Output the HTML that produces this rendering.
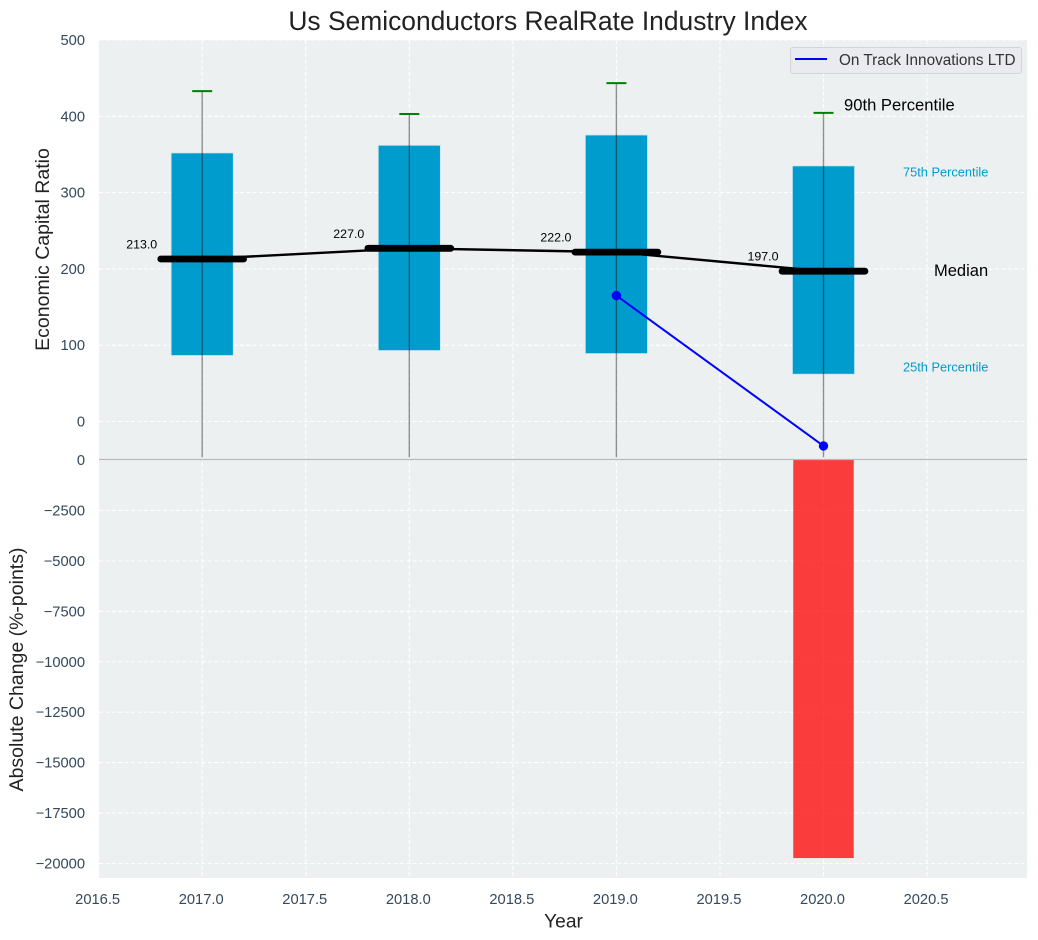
<!DOCTYPE html>
<html>
<head>
<meta charset="utf-8">
<title>Us Semiconductors RealRate Industry Index</title>
<style>
html,body{margin:0;padding:0;background:#fff;}
svg{display:block;font-family:"Liberation Sans",Arial,sans-serif;}
</style>
</head>
<body>
<svg id="chart" xmlns="http://www.w3.org/2000/svg" width="1038" height="940" viewBox="0 0 1038 940"></svg>
<script>
const years = [2017, 2018, 2019, 2020];
const p25 = [86.5, 93, 89, 62];
const p75 = [352, 362, 375.5, 335];
const p90 = [433, 403, 443.5, 404.5];
const p10 = [-47, -47, -47, -47];
const medians = [213, 227, 222, 197];
const companyYears = [2019, 2020];
const companyValues = [165, -32];
const changeYears = [2020];
const changeValues = [-19730];
const xTicks = [2016.5, 2017, 2017.5, 2018, 2018.5, 2019, 2019.5, 2020, 2020.5];
const topTicks = [0, 100, 200, 300, 400, 500];
const bottomTicks = [0, -2500, -5000, -7500, -10000, -12500, -15000, -17500, -20000];

const svg = document.getElementById('chart');
const NS = 'http://www.w3.org/2000/svg';
const left = 99, right = 1027, topY = 40, dividerY = 459.5, bottomY = 878;
const fx = v => 202.2 + (v - 2017) * 207.1;
const fyTop = v => 421.5 - v * 0.763;
const fyBottom = v => 460 - v * 0.020175;
const tickColor = '#34495e';

function make(tag, attrs, text) {
  const el = document.createElementNS(NS, tag);
  for (const k in attrs) el.setAttribute(k, attrs[k]);
  if (text !== undefined) el.textContent = text;
  svg.appendChild(el);
  return el;
}
const fmt = v => String(v).replace('-', '\u2212');

let el;
el = make('rect', {x: left, y: topY, width: right - left, height: bottomY - topY, fill: '#ecf0f1'});



xTicks.forEach(t => {
  if (t === 2016.5) return;
  const g = make('line', {x1: fx(t), x2: fx(t), y1: topY, y2: bottomY, stroke: '#fff', 'stroke-width': 1.1, 'stroke-dasharray': '4 2.4'});
  
  
});
topTicks.forEach(t => {
  const g = make('line', {x1: left, x2: right, y1: fyTop(t), y2: fyTop(t), stroke: '#fff', 'stroke-width': 1.1, 'stroke-dasharray': '4 2.4'});
  
  
  const lab = make('text', {x: 85, y: fyTop(t) + 5, 'text-anchor': 'end', 'font-size': 14.7, fill: tickColor}, fmt(t));
  
  
});
bottomTicks.forEach(t => {
  const g = make('line', {x1: left, x2: right, y1: fyBottom(t), y2: fyBottom(t), stroke: '#fff', 'stroke-width': 1.1, 'stroke-dasharray': '4 2.4'});
  
  
  const lab = make('text', {x: 85, y: fyBottom(t) + 5, 'text-anchor': 'end', 'font-size': 14.7, fill: tickColor}, fmt(t));
  
  
});
xTicks.forEach(t => {
  const lab = make('text', {x: fx(t) - 1, y: 904, 'text-anchor': 'middle', 'font-size': 14.7, fill: tickColor}, t.toFixed(1));
  
  
});

years.forEach((yr, i) => {
  const bar = make('rect', {
    x: fx(yr - 0.15), width: fx(yr + 0.15) - fx(yr - 0.15),
    y: fyTop(p75[i]), height: fyTop(p25[i]) - fyTop(p75[i]),
    fill: '#009ccd', stroke: '#cfe6ef', 'stroke-width': 0.8
  });
  
  
});
years.forEach((yr, i) => {
  const w = make('line', {x1: fx(yr), x2: fx(yr), y1: fyTop(p90[i]), y2: fyTop(p10[i]), stroke: '#000', 'stroke-opacity': 0.42, 'stroke-width': 1.4});
  
  
  const cap = make('line', {x1: fx(yr) - 10, x2: fx(yr) + 10, y1: fyTop(p90[i]), y2: fyTop(p90[i]), stroke: '#008000', 'stroke-width': 2});
  
  
});

el = make('polyline', {points: years.map((yr, i) => fx(yr) + ',' + fyTop(medians[i])).join(' '), fill: 'none', stroke: '#000', 'stroke-width': 2.4});



years.forEach((yr, i) => {
  const m = make('line', {x1: fx(yr - 0.2), x2: fx(yr + 0.2), y1: fyTop(medians[i]), y2: fyTop(medians[i]), stroke: '#000', 'stroke-width': 6.8, 'stroke-linecap': 'round'});
  
  
  const lab = make('text', {x: fx(yr) - 60.5, y: fyTop(medians[i]) - 10.5, 'text-anchor': 'middle', 'font-size': 12.4, fill: '#000'}, medians[i].toFixed(1));
  
  
});

el = make('polyline', {points: companyYears.map((yr, i) => fx(yr) + ',' + fyTop(companyValues[i])).join(' '), fill: 'none', stroke: '#0000ff', 'stroke-width': 2});


companyYears.forEach((yr, i) => {
  const p = make('circle', {cx: fx(yr), cy: fyTop(companyValues[i]), r: 4.7, fill: '#0000ff'});
  
  
});

changeYears.forEach((yr, i) => {
  const bar = make('rect', {
    x: fx(yr - 0.146), width: fx(yr + 0.146) - fx(yr - 0.146),
    y: fyBottom(0), height: fyBottom(changeValues[i]) - fyBottom(0),
    fill: '#ff0000', 'fill-opacity': 0.75
  });
  
  
});

el = make('line', {x1: left, x2: right, y1: dividerY, y2: dividerY, stroke: '#b9b9b9', 'stroke-width': 1.3});



el = make('text', {x: 548, y: 30, 'text-anchor': 'middle', 'font-size': 26.4, fill: '#222'}, 'Us Semiconductors RealRate Industry Index');


el = make('text', {x: 563.5, y: 927.5, 'text-anchor': 'middle', 'font-size': 19.2, fill: '#222'}, 'Year');


el = make('text', {transform: 'translate(49,249.5) rotate(-90)', 'text-anchor': 'middle', 'font-size': 19.5, fill: '#222'}, 'Economic Capital Ratio');


el = make('text', {transform: 'translate(23,669.5) rotate(-90)', 'text-anchor': 'middle', 'font-size': 19.5, fill: '#222'}, 'Absolute Change (%-points)');



el = make('text', {x: 844, y: 110.5, 'font-size': 16.6, fill: '#000'}, '90th Percentile');


el = make('text', {x: 903, y: 176.5, 'font-size': 12.8, fill: '#009ccd'}, '75th Percentile');


el = make('text', {x: 934, y: 276, 'font-size': 16.5, fill: '#000'}, 'Median');


el = make('text', {x: 903, y: 371.5, 'font-size': 12.8, fill: '#009ccd'}, '25th Percentile');



el = make('rect', {x: 790.5, y: 47.5, width: 231, height: 26, rx: 2.5, fill: '#e9ebf0', stroke: '#d2d4d6', 'stroke-width': 1});


el = make('line', {x1: 795, x2: 827, y1: 59, y2: 59, stroke: '#0000ff', 'stroke-width': 2});


el = make('text', {x: 839, y: 65, 'font-size': 15.3, fill: '#333'}, 'On Track Innovations LTD');


</script>
</body>
</html>
